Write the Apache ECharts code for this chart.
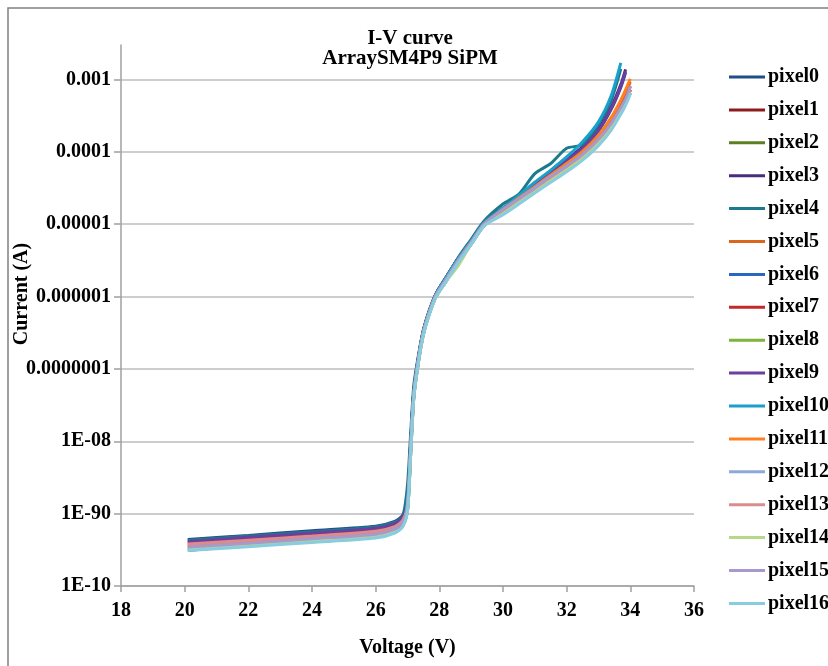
<!DOCTYPE html>
<html><head><meta charset="utf-8">
<script src="https://cdn.jsdelivr.net/npm/echarts@6/dist/echarts.min.js"></script>
<style>html,body{margin:0;padding:0;background:#fff}#c{width:828px;height:666px}</style>
</head><body><div id="c"></div>
<script>
// Voltage samples (V)
const voltage = [20.1, 22, 24, 26, 26.6, 26.85, 27.0, 27.1, 27.2, 27.35, 27.5, 27.7, 27.9, 28.2, 28.6, 29.0, 29.4, 30.0, 30.5, 31.0, 31.5, 32.0, 32.5, 33.0, 33.4, 33.7, 33.85, 34.0];

// Currents (A) per pixel
const pixel0  = [4.4e-10, 5.0e-10, 5.8e-10, 6.7e-10, 7.8e-10, 9.5e-10, 1.6e-9, 9.5e-9, 5.0e-8, 1.5e-7, 3.4e-7, 6.6e-7, 1.1e-6, 1.8e-6, 3.4e-6, 5.9e-6, 1.05e-5, 1.6e-5, 2.3e-5, 3.4e-5, 5.0e-5, 7.4e-5, 1.1e-4, 1.95e-4, 3.9e-4, 7.8e-4, 1.25e-3, null];
const pixel1  = [4.0e-10, 4.5e-10, 5.1e-10, 6.0e-10, 7.0e-10, 8.5e-10, 1.3e-9, 7.9e-9, 4.5e-8, 1.4e-7, 3.2e-7, 6.3e-7, 1.05e-6, 1.7e-6, 3.2e-6, 5.6e-6, 1.0e-5, 1.5e-5, 2.1e-5, 3.0e-5, 4.3e-5, 6.0e-5, 8.7e-5, 1.4e-4, 2.3e-4, 3.8e-4, 5.0e-4, 7.2e-4];
const pixel2  = [3.5e-10, 4.0e-10, 4.6e-10, 5.3e-10, 6.2e-10, 7.5e-10, 1.3e-9, 7.9e-9, 4.5e-8, 1.4e-7, 3.2e-7, 6.3e-7, 1.05e-6, 1.7e-6, 3.2e-6, 5.6e-6, 1.0e-5, 1.4e-5, 2.0e-5, 2.8e-5, 4.0e-5, 5.6e-5, 8.1e-5, 1.3e-4, 2.1e-4, 3.5e-4, 4.6e-4, 6.6e-4];
const pixel3  = [4.3e-10, 4.8e-10, 5.5e-10, 6.4e-10, 7.5e-10, 9.1e-10, 1.6e-9, 9.5e-9, 5.0e-8, 1.5e-7, 3.4e-7, 6.6e-7, 1.1e-6, 1.8e-6, 3.4e-6, 5.9e-6, 1.05e-5, 1.66e-5, 2.4e-5, 3.5e-5, 5.2e-5, 7.8e-5, 1.17e-4, 2.1e-4, 4.2e-4, 8.5e-4, 1.38e-3, null];
const pixel4  = [4.3e-10, 4.9e-10, 5.6e-10, 6.6e-10, 7.6e-10, 9.2e-10, 2.5e-9, 1.3e-8, 6.0e-8, 1.6e-7, 3.5e-7, 6.8e-7, 1.1e-6, 1.8e-6, 3.5e-6, 6.2e-6, 1.1e-5, 1.9e-5, 2.6e-5, 5.0e-5, 6.9e-5, 1.12e-4, 1.26e-4, 2.4e-4, 5.2e-4, 1.4e-3, null, null];
const pixel5  = [3.7e-10, 4.2e-10, 4.8e-10, 5.6e-10, 6.5e-10, 7.9e-10, 1.3e-9, 7.9e-9, 4.5e-8, 1.4e-7, 3.2e-7, 6.3e-7, 1.05e-6, 1.7e-6, 3.2e-6, 5.6e-6, 1.0e-5, 1.55e-5, 2.2e-5, 3.2e-5, 4.6e-5, 6.6e-5, 9.7e-5, 1.6e-4, 2.8e-4, 4.8e-4, 6.6e-4, 9.3e-4];
const pixel6  = [3.1e-10, 3.65e-10, 4.2e-10, 4.9e-10, 5.7e-10, 6.9e-10, 1.1e-9, 6.8e-9, 4.1e-8, 1.3e-7, 3.0e-7, 6.0e-7, 1.0e-6, 1.6e-6, 3.0e-6, 5.3e-6, 9.5e-6, 1.5e-5, 2.1e-5, 3.0e-5, 4.3e-5, 6.0e-5, 8.7e-5, 1.4e-4, 2.3e-4, 3.8e-4, 5.0e-4, 7.2e-4];
const pixel7  = [3.9e-10, 4.4e-10, 5.0e-10, 5.9e-10, 6.8e-10, 8.3e-10, 1.3e-9, 7.9e-9, 4.5e-8, 1.4e-7, 3.2e-7, 6.3e-7, 1.05e-6, 1.7e-6, 3.2e-6, 5.6e-6, 1.0e-5, 1.6e-5, 2.25e-5, 3.2e-5, 4.6e-5, 6.4e-5, 9.3e-5, 1.5e-4, 2.5e-4, 4.1e-4, 5.4e-4, 8.1e-4];
const pixel8  = [3.4e-10, 3.8e-10, 4.4e-10, 5.1e-10, 5.9e-10, 7.2e-10, 1.1e-9, 6.8e-9, 4.1e-8, 1.3e-7, 3.0e-7, 6.0e-7, 1.0e-6, 1.6e-6, 3.0e-6, 5.3e-6, 9.5e-6, 1.4e-5, 2.0e-5, 2.8e-5, 4.0e-5, 5.6e-5, 8.1e-5, 1.3e-4, 2.1e-4, 3.5e-4, 4.6e-4, 6.6e-4];
const pixel9  = [4.1e-10, 4.7e-10, 5.4e-10, 6.3e-10, 7.3e-10, 8.8e-10, 1.6e-9, 9.5e-9, 5.0e-8, 1.5e-7, 3.4e-7, 6.6e-7, 1.1e-6, 1.8e-6, 3.4e-6, 5.9e-6, 1.05e-5, 1.6e-5, 2.35e-5, 3.4e-5, 5.1e-5, 7.6e-5, 1.13e-4, 2.0e-4, 4.0e-4, 8.0e-4, 1.3e-3, null];
const pixel10 = [3.3e-10, 3.7e-10, 4.3e-10, 5.0e-10, 5.8e-10, 7.0e-10, 1.6e-9, 9.5e-9, 5.0e-8, 1.5e-7, 3.4e-7, 6.6e-7, 1.1e-6, 1.8e-6, 3.4e-6, 5.9e-6, 1.05e-5, 1.66e-5, 2.5e-5, 3.8e-5, 5.6e-5, 8.5e-5, 1.38e-4, 2.6e-4, 6.0e-4, 1.7e-3, null, null];
const pixel11 = [3.6e-10, 4.1e-10, 4.7e-10, 5.5e-10, 6.4e-10, 7.7e-10, 1.3e-9, 7.9e-9, 4.5e-8, 1.4e-7, 3.2e-7, 6.3e-7, 1.05e-6, 1.7e-6, 3.2e-6, 5.6e-6, 1.0e-5, 1.6e-5, 2.3e-5, 3.3e-5, 4.8e-5, 6.9e-5, 1.02e-4, 1.7e-4, 3.0e-4, 5.2e-4, 7.2e-4, 1.02e-3];
const pixel12 = [3.15e-10, 3.6e-10, 4.1e-10, 4.8e-10, 5.5e-10, 6.7e-10, 1.1e-9, 6.8e-9, 4.1e-8, 1.3e-7, 3.0e-7, 6.0e-7, 1.0e-6, 1.6e-6, 3.0e-6, 5.3e-6, 9.5e-6, 1.4e-5, 2.0e-5, 2.8e-5, 4.0e-5, 5.6e-5, 8.1e-5, 1.3e-4, 2.1e-4, 3.5e-4, 4.6e-4, 6.6e-4];
const pixel13 = [3.8e-10, 4.3e-10, 4.9e-10, 5.7e-10, 6.6e-10, 8.1e-10, 1.3e-9, 7.9e-9, 4.5e-8, 1.4e-7, 3.2e-7, 6.3e-7, 1.05e-6, 1.7e-6, 3.2e-6, 5.6e-6, 1.0e-5, 1.5e-5, 2.1e-5, 3.0e-5, 4.3e-5, 6.0e-5, 8.7e-5, 1.4e-4, 2.3e-4, 3.8e-4, 5.0e-4, 7.2e-4];
const pixel14 = [3.3e-10, 3.7e-10, 4.3e-10, 5.0e-10, 5.8e-10, 7.0e-10, 1.1e-9, 6.8e-9, 4.1e-8, 1.3e-7, 3.0e-7, 6.0e-7, 1.0e-6, 1.6e-6, 2.7e-6, 5.3e-6, 9.5e-6, 1.4e-5, 2.0e-5, 2.8e-5, 4.0e-5, 5.6e-5, 8.1e-5, 1.3e-4, 2.1e-4, 3.5e-4, 4.6e-4, 6.6e-4];
const pixel15 = [3.45e-10, 3.9e-10, 4.5e-10, 5.2e-10, 6.1e-10, 7.4e-10, 1.3e-9, 7.9e-9, 4.5e-8, 1.4e-7, 3.2e-7, 6.3e-7, 1.05e-6, 1.7e-6, 3.2e-6, 5.6e-6, 1.0e-5, 1.6e-5, 2.25e-5, 3.2e-5, 4.6e-5, 6.4e-5, 9.3e-5, 1.5e-4, 2.5e-4, 4.1e-4, 5.4e-4, 8.1e-4];
const pixel16 = [3.1e-10, 3.5e-10, 4.0e-10, 4.6e-10, 5.4e-10, 6.6e-10, 1.1e-9, 6.8e-9, 4.1e-8, 1.3e-7, 3.0e-7, 6.0e-7, 1.0e-6, 1.6e-6, 3.0e-6, 5.3e-6, 9.5e-6, 1.35e-5, 1.9e-5, 2.7e-5, 3.8e-5, 5.3e-5, 7.7e-5, 1.22e-4, 2.0e-4, 3.3e-4, 4.4e-4, 6.3e-4];

const seriesNames = ['pixel0','pixel1','pixel2','pixel3','pixel4','pixel5','pixel6','pixel7','pixel8','pixel9','pixel10','pixel11','pixel12','pixel13','pixel14','pixel15','pixel16'];
const seriesValues = [pixel0,pixel1,pixel2,pixel3,pixel4,pixel5,pixel6,pixel7,pixel8,pixel9,pixel10,pixel11,pixel12,pixel13,pixel14,pixel15,pixel16];
const seriesColors = ['#1F4E89','#8C1C1C','#5C7F1F','#4A2C7E','#1C7A8C','#D9661A','#2A67C2','#C22A2A','#7DB43A','#6A3FA0','#1AA0CC','#FF8020','#8DA9DB','#DB8C8C','#B5D88A','#A898CC','#88CCE0'];

// Y axis ticks (labels exactly as printed, including the original's typo)
const yTickValues = [1e-10, 1e-9, 1e-8, 1e-7, 1e-6, 1e-5, 1e-4, 1e-3];
const yTickLabels = ['1E-10', '1E-90', '1E-08', '0.0000001', '0.000001', '0.00001', '0.0001', '0.001'];

const FONT = "'Liberation Serif', 'Times New Roman', serif";

function yLabel(v) {
  for (let i = 0; i < yTickValues.length; i++) {
    if (Math.abs(Math.log10(v) - Math.log10(yTickValues[i])) < 1e-6) return yTickLabels[i];
  }
  return '';
}

const chart = echarts.init(document.getElementById('c'), null, {renderer: 'canvas'});
chart.setOption({
  animation: false,
  backgroundColor: '#fff',
  title: {
    text: 'I-V curve\nArraySM4P9 SiPM',
    left: 410, top: 29, textAlign: 'center', padding: 0,
    textStyle: {fontFamily: FONT, fontWeight: 'bold', fontSize: 21, lineHeight: 20, color: '#000'}
  },
  graphic: [{
    type: 'rect', shape: {x: 8, y: 8, width: 900, height: 700},
    style: {fill: 'none', stroke: '#808080', lineWidth: 1.5}, silent: true, z: -1
  }, {
    type: 'text', x: 22, y: 294, rotation: Math.PI / 2, silent: true,
    style: {text: 'Current (A)', fill: '#000', align: 'center', verticalAlign: 'middle',
            font: "bold 20px 'Liberation Serif', 'Times New Roman', serif"}
  }],
  legend: {
    orient: 'vertical', left: 729, top: 67, padding: 0,
    icon: 'rect', itemWidth: 36, itemHeight: 3, itemGap: 12.9,
    textStyle: {fontFamily: FONT, fontWeight: 'bold', fontSize: 20, lineHeight: 20, color: '#000', padding: [0, 0, 0, -2]},
    data: seriesNames
  },
  grid: {left: 121, right: 134, top: 45, bottom: 80, containLabel: false, outerBoundsMode: 'none'},
  xAxis: {
    type: 'value', min: 18, max: 36, interval: 2,
    name: 'Voltage (V)', nameLocation: 'middle', nameGap: 52,
    nameTextStyle: {fontFamily: FONT, fontWeight: 'bold', fontSize: 20, color: '#000'},
    axisLine: {show: true, lineStyle: {color: '#a0a0a0', width: 1.5}},
    axisTick: {show: true, inside: false, length: 6, lineStyle: {color: '#a0a0a0', width: 1.5}},
    axisLabel: {fontFamily: FONT, fontWeight: 'bold', fontSize: 20, color: '#000', margin: 15},
    splitLine: {show: false}
  },
  yAxis: {
    type: 'log', logBase: 10, min: 1e-10, max: 0.003,
    axisLine: {show: true, lineStyle: {color: '#a0a0a0', width: 1.5}},
    axisTick: {show: true, inside: false, length: 7, lineStyle: {color: '#a0a0a0', width: 1.5}, customValues: yTickValues},
    axisLabel: {fontFamily: FONT, fontWeight: 'bold', fontSize: 20, color: '#000', margin: 10, formatter: yLabel, customValues: yTickValues},
    splitLine: {show: true, lineStyle: {color: '#bdbdbd', width: 1.5}}
  },
  series: seriesNames.map((name, i) => ({
    name: name,
    type: 'line',
    data: voltage.map((v, j) => [v, seriesValues[i][j]]),
    symbol: 'none', showSymbol: false,
    smooth: 0.25,
    connectNulls: false,
    lineStyle: {width: 3, color: seriesColors[i]},
    itemStyle: {color: seriesColors[i]}
  }))
});
</script>
</body></html>
